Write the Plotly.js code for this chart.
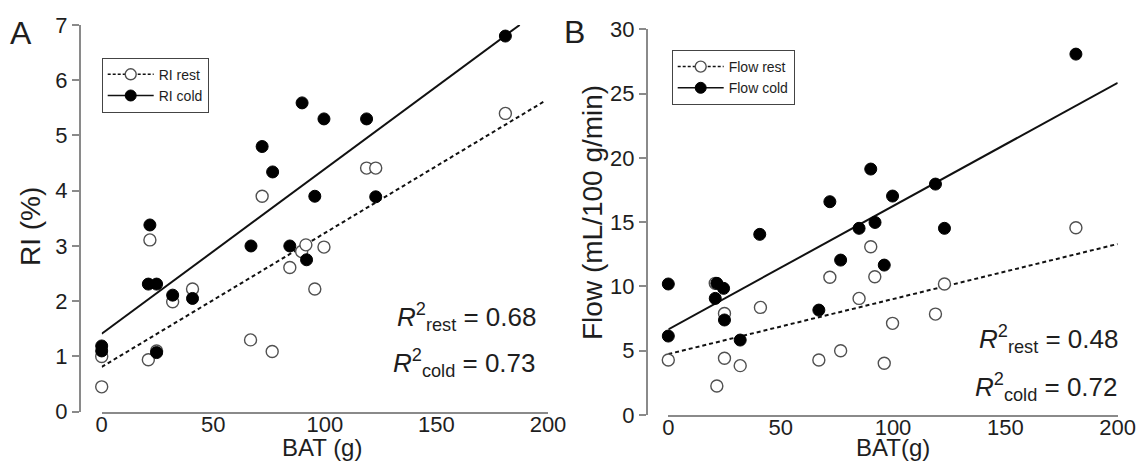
<!DOCTYPE html>
<html>
<head>
<meta charset="utf-8">
<script src="https://cdn.plot.ly/plotly-3.0.1.min.js"></script>
<style>html,body{margin:0;padding:0;background:#fff;}#chart{width:1140px;height:474px;}</style>
</head>
<body>
<div id="chart"></div>
<script>
// ---- Panel A: RI (%) vs BAT (g) ----
const riRestBAT = [0, 0, 20.9, 21.6, 24.6, 31.8, 40.7, 66.7, 71.9, 76.4, 84.3, 89.6, 91.5, 95.5, 99.6, 118.7, 122.8, 180.9];
const riRestVal = [1.0, 0.45, 0.94, 3.11, 1.1, 1.99, 2.22, 1.30, 3.90, 1.09, 2.61, 2.90, 3.02, 2.22, 2.98, 4.41, 4.41, 5.40];
const riColdBAT = [0, 0, 20.9, 21.6, 24.6, 24.6, 31.8, 40.7, 66.9, 71.9, 76.6, 84.3, 89.8, 91.8, 95.5, 99.6, 118.7, 122.8, 180.9];
const riColdVal = [1.19, 1.10, 2.31, 3.38, 2.31, 1.07, 2.11, 2.05, 3.0, 4.80, 4.34, 3.0, 5.59, 2.75, 3.90, 5.30, 5.30, 3.89, 6.80];
const riRestFitX = [0, 198];
const riRestFitY = [0.81, 5.61];
const riColdFitX = [0, 187.3];
const riColdFitY = [1.41, 7.0];

// ---- Panel B: Flow (mL/100 g/min) vs BAT (g) ----
const flowRestBAT = [0, 20.9, 21.6, 25, 25, 32, 41, 67, 71.9, 76.7, 84.9, 90.1, 91.9, 96.1, 99.8, 118.9, 122.9, 181.4];
const flowRestVal = [4.28, 10.24, 2.26, 7.9, 4.41, 3.84, 8.37, 4.28, 10.71, 5.0, 9.07, 13.09, 10.75, 4.02, 7.13, 7.85, 10.19, 14.57];
const flowColdBAT = [0, 0, 20.9, 21.6, 24.6, 25, 32, 40.7, 67, 71.9, 76.7, 84.9, 90.1, 92, 96.1, 99.8, 118.9, 122.9, 181.4];
const flowColdVal = [10.19, 6.14, 9.07, 10.24, 9.85, 7.39, 5.83, 14.05, 8.16, 16.59, 12.05, 14.52, 19.13, 14.98, 11.66, 17.03, 17.96, 14.52, 28.07];
const flowRestFitX = [0, 200];
const flowRestFitY = [4.74, 13.3];
const flowColdFitX = [0, 200];
const flowColdFitY = [6.66, 25.84];

// ---- Labels ----
const xTicks = [0, 50, 100, 150, 200];
const legendA = ['RI rest', 'RI cold'];
const legendB = ['Flow rest', 'Flow cold'];
const r2A = ['0.68', '0.73'];
const r2B = ['0.48', '0.72'];
const xTitleA = 'BAT (g)';
const xTitleB = 'BAT(g)';
const yTitleA = 'RI (%)';
const yTitleB = 'Flow (mL/100 g/min)';

const FONT = 'Liberation Sans, Arial, Helvetica, sans-serif';
const TXT = '#1e1e1e';
const AX = '#8a8a8a';
const openMarker = {symbol: 'circle', size: 12, color: '#ffffff', line: {color: '#505050', width: 1.4}};
const fillMarker = {symbol: 'circle', size: 12, color: '#000000', line: {color: '#000000', width: 1}};
const dashLine = {color: '#111', width: 2, dash: '4px,3px'};
const solidLine = {color: '#111', width: 2};

function fit(x, y, line, xa, ya) {
  return {x: x, y: y, type: 'scatter', mode: 'lines', line: line, xaxis: xa, yaxis: ya, showlegend: false, hoverinfo: 'skip', cliponaxis: false};
}
function pts(x, y, marker, xa, ya) {
  return {x: x, y: y, type: 'scatter', mode: 'markers', marker: marker, xaxis: xa, yaxis: ya, showlegend: false, cliponaxis: false};
}
function leg(name, line, marker, xa, ya, lg) {
  return {x: [null], y: [null], type: 'scatter', mode: 'lines+markers', name: name, line: line,
          marker: Object.assign({}, marker, {size: 11}), xaxis: xa, yaxis: ya, showlegend: true, legend: lg};
}

const data = [
  fit(riRestFitX, riRestFitY, dashLine, 'x', 'y'),
  fit(riColdFitX, riColdFitY, solidLine, 'x', 'y'),
  pts(riRestBAT, riRestVal, openMarker, 'x', 'y'),
  pts(riColdBAT, riColdVal, fillMarker, 'x', 'y'),
  leg(legendA[0], {color: '#111', width: 1.5, dash: '3px,2px'}, openMarker, 'x', 'y', 'legend'),
  leg(legendA[1], {color: '#111', width: 1.5}, fillMarker, 'x', 'y', 'legend'),

  fit(flowRestFitX, flowRestFitY, dashLine, 'x2', 'y2'),
  fit(flowColdFitX, flowColdFitY, solidLine, 'x2', 'y2'),
  pts(flowRestBAT, flowRestVal, openMarker, 'x2', 'y2'),
  pts(flowColdBAT, flowColdVal, fillMarker, 'x2', 'y2'),
  leg(legendB[0], {color: '#111', width: 1.5, dash: '3px,2px'}, openMarker, 'x2', 'y2', 'legend2'),
  leg(legendB[1], {color: '#111', width: 1.5}, fillMarker, 'x2', 'y2', 'legend2')
];

const W = 1140, H = 474;
function xa(d0, d1) {
  return {domain: [d0 / W, d1 / W], range: [0, 200], tickvals: xTicks, ticks: '', showline: true, linecolor: AX, linewidth: 2,
          showgrid: false, zeroline: false, tickfont: {size: 22, color: TXT, family: FONT}, ticklabelstandoff: -8, fixedrange: true};
}
function ya(b, t, pos, range, dtick) {
  return {domain: [(H - b) / H, (H - t) / H], range: range, dtick: dtick, anchor: 'free', position: pos / W,
          showline: true, linecolor: AX, linewidth: 2, ticks: 'outside', ticklen: 7, tickwidth: 2, tickcolor: AX,
          showgrid: false, zeroline: false, tickfont: {size: 22, color: TXT, family: FONT}, fixedrange: true};
}
function txt(text, px, py, size, opts) {
  return Object.assign({text: text, x: px / W, y: (H - py) / H, xref: 'paper', yref: 'paper', xanchor: 'center', yanchor: 'middle',
          showarrow: false, font: {size: size, color: TXT, family: FONT}}, opts || {});
}
function r2(label, val, px, py) {
  return txt('<i>R</i><sup>2</sup><sub>' + label + '</sub> = ' + val, px, py, 26, {xanchor: 'right'});
}

const legendStyle = {xanchor: 'left', yanchor: 'top', bgcolor: '#fff', bordercolor: '#444', borderwidth: 1,
                     font: {size: 14, color: TXT, family: FONT}, itemwidth: 46, tracegroupgap: 0};

const layout = {
  width: W, height: H,
  margin: {l: 0, r: 0, t: 0, b: 0},
  paper_bgcolor: '#ffffff', plot_bgcolor: 'rgba(0,0,0,0)',
  font: {family: FONT, color: TXT},
  xaxis: Object.assign(xa(101.7, 548), {anchor: 'y'}),
  yaxis: ya(411.7, 25, 80, [0, 7], 1),
  xaxis2: Object.assign(xa(668.3, 1117.7), {anchor: 'y2'}),
  yaxis2: ya(415, 29.3, 647, [0, 30], 5),
  legend: Object.assign({x: 101.7 / W, y: (H - 57.7) / H}, legendStyle),
  legend2: Object.assign({x: 671.7 / W, y: (H - 50) / H}, legendStyle),
  annotations: [
    txt('A', 8, 33, 32, {xanchor: 'left'}),
    txt('B', 562, 32, 32, {xanchor: 'left'}),
    txt(xTitleA, 321.5, 447, 24),
    txt(xTitleB, 892.5, 447, 24),
    txt(yTitleA, 30, 227, 28, {textangle: -90}),
    txt(yTitleB, 593, 213, 28, {textangle: -90}),
    r2('rest', r2A[0], 538, 316.5),
    r2('cold', r2A[1], 538, 363),
    r2('rest', r2B[0], 1120, 339),
    r2('cold', r2B[1], 1120, 387)
  ],
  showlegend: true
};

Plotly.newPlot('chart', data, layout, {staticPlot: true, displayModeBar: false});
</script>
</body>
</html>
